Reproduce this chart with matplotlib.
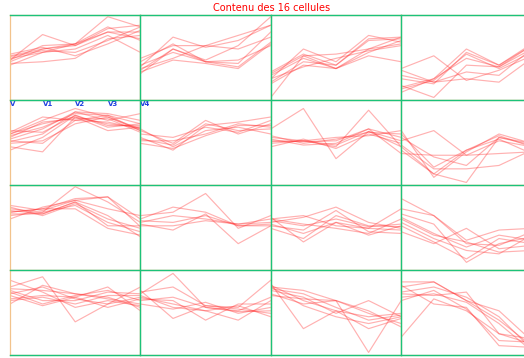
import matplotlib
matplotlib.use("Agg")
import matplotlib.pyplot as plt
from matplotlib.lines import Line2D

# profile of each SOM cell: height inside the cell (0 = bottom, 100 = top)
# for variables V..V4, one list per line drawn in the cell
cell_00 = [[47, 77, 64, 80, 72], [45, 60, 66, 98, 86], [52, 60, 64, 84, 88],
           [49, 56, 66, 80, 80], [43, 45, 49, 72, 76], [54, 62, 52, 66, 82],
           [41, 56, 60, 76, 56], [47, 64, 66, 86, 70], [51, 58, 56, 70, 86]]
cell_01 = [[39, 74, 62, 70, 88], [31, 60, 47, 64, 98], [45, 66, 45, 43, 80],
           [37, 49, 64, 60, 74], [35, 60, 45, 39, 68], [41, 56, 45, 47, 64],
           [33, 47, 43, 37, 66], [49, 64, 64, 76, 88]]
cell_02 = [[25, 60, 45, 76, 68], [3, 52, 37, 60, 74], [21, 45, 41, 70, 72],
           [31, 52, 54, 60, 66], [19, 41, 37, 56, 70], [29, 49, 37, 52, 45],
           [25, 39, 49, 58, 64], [33, 54, 41, 72, 74]]
cell_03 = [[37, 52, 23, 35, 52], [9, 25, 60, 41, 64], [13, 23, 54, 37, 56],
           [17, 3, 41, 39, 60], [29, 21, 25, 21, 49], [25, 19, 56, 41, 66],
           [15, 25, 49, 39, 64], [35, 21, 33, 29, 60]]
cell_10 = [[60, 76, 90, 80, 64], [58, 68, 84, 82, 72], [45, 39, 80, 72, 68],
           [52, 49, 76, 82, 64], [62, 80, 76, 74, 66], [54, 66, 86, 76, 84],
           [41, 56, 82, 70, 70], [56, 74, 78, 78, 62], [64, 62, 82, 68, 72],
           [49, 52, 72, 80, 66], [60, 72, 80, 64, 68], [51, 60, 86, 84, 76]]
cell_11 = [[64, 49, 76, 60, 72], [56, 41, 70, 74, 80], [66, 45, 64, 68, 60],
           [52, 52, 60, 72, 68], [60, 56, 68, 62, 76], [54, 47, 72, 64, 66],
           [49, 43, 58, 70, 70]]
cell_12 = [[66, 90, 31, 63, 52], [56, 52, 45, 88, 45], [52, 51, 52, 66, 56],
           [49, 52, 47, 63, 45], [58, 49, 54, 62, 60], [45, 54, 43, 60, 49],
           [54, 47, 49, 66, 37], [51, 52, 56, 58, 64]]
cell_13 = [[64, 9, 39, 60, 49], [52, 64, 35, 52, 45], [41, 13, 3, 56, 47],
           [37, 35, 35, 37, 39], [60, 21, 41, 58, 45], [47, 19, 19, 23, 41],
           [56, 33, 23, 56, 49], [45, 13, 41, 54, 37]]
cell_20 = [[72, 68, 98, 80, 56], [76, 70, 82, 86, 51], [66, 66, 80, 64, 39],
           [68, 72, 84, 86, 60], [64, 68, 76, 56, 45], [74, 64, 78, 60, 49],
           [60, 74, 82, 72, 64], [70, 66, 80, 52, 52], [68, 72, 72, 49, 41]]
cell_21 = [[60, 74, 68, 52, 54], [54, 47, 66, 31, 52], [64, 68, 90, 49, 64],
           [56, 64, 60, 54, 60], [58, 56, 64, 52, 52], [52, 52, 58, 54, 56]]
cell_22 = [[60, 64, 52, 49, 72], [56, 62, 74, 56, 49], [62, 33, 56, 41, 52],
           [52, 47, 70, 45, 43], [58, 52, 60, 51, 54], [54, 43, 56, 49, 47],
           [49, 37, 64, 52, 51], [60, 54, 49, 43, 60]]
cell_23 = [[84, 64, 35, 47, 49], [72, 64, 31, 29, 45], [62, 43, 27, 41, 35],
           [66, 54, 9, 31, 39], [56, 37, 23, 19, 41], [45, 31, 49, 25, 29],
           [60, 41, 33, 21, 23], [52, 33, 13, 37, 31]]
cell_30 = [[88, 74, 56, 64, 58], [80, 92, 39, 60, 68], [66, 70, 68, 80, 52],
           [76, 64, 64, 74, 72], [72, 80, 66, 60, 80], [60, 82, 72, 68, 56],
           [74, 60, 70, 76, 64], [64, 68, 60, 70, 70], [78, 76, 72, 66, 60],
           [70, 58, 68, 56, 66]]
cell_31 = [[72, 96, 56, 52, 68], [76, 43, 58, 56, 88], [66, 64, 41, 60, 60],
           [70, 56, 52, 41, 64], [64, 68, 56, 51, 52], [60, 54, 62, 49, 56],
           [74, 80, 58, 54, 49], [68, 60, 52, 58, 45]]
cell_32 = [[84, 31, 52, 45, 49], [80, 76, 64, 3, 64], [76, 68, 49, 64, 45],
           [82, 64, 52, 31, 43], [70, 66, 64, 52, 33], [78, 72, 56, 41, 47],
           [72, 60, 64, 49, 37], [80, 58, 45, 37, 45]]
cell_33 = [[86, 86, 64, 41, 11], [80, 86, 64, 52, 17], [72, 70, 74, 25, 13],
           [68, 72, 62, 37, 5], [82, 60, 56, 11, 9], [21, 66, 52, 25, 19],
           [74, 80, 68, 45, 7], [64, 76, 54, 17, 15]]

cells = [[cell_00, cell_01, cell_02, cell_03],
         [cell_10, cell_11, cell_12, cell_13],
         [cell_20, cell_21, cell_22, cell_23],
         [cell_30, cell_31, cell_32, cell_33]]
var_labels = ['V', 'V1', 'V2', 'V3', 'V4']
positions = [0, 1, 2, 3, 4]

W, H = 524, 358
fig = plt.figure(figsize=(W / 100, H / 100), dpi=100)
fig.patch.set_facecolor('white')

x0, y0, cw, ch = 10, 15, 130.4, 85
green = '#1cc27a'
tan = '#f2c38c'

for r, row in enumerate(cells):
    for c, profiles in enumerate(row):
        left = (x0 + cw * c) / W
        bottom = 1 - (y0 + ch * (r + 1)) / H
        ax = fig.add_axes([left, bottom, cw / W, ch / H])
        ax.set_xlim(0, 4)
        ax.set_ylim(0, 100)
        ax.set_xticks([])
        ax.set_yticks([])
        for s in ax.spines.values():
            s.set_color(tan)
            s.set_linewidth(0.9)
        for p in profiles:
            ax.plot(positions, p, color='#ff3333', alpha=0.38, linewidth=0.85)
        if r == 1 and c == 0:
            ax.set_zorder(3)
            for k, lab in zip(positions, var_labels):
                ax.text(k, 99, lab, color='#1f3fe0', fontsize=5,
                        fontweight='bold', ha='left', va='top',
                        clip_on=False, zorder=5)

# green separators between the cells
for i in range(5):
    yy = 1 - (y0 + ch * i) / H
    fig.add_artist(Line2D([x0 / W, 1], [yy, yy], color=green, linewidth=1.0,
                          zorder=10))
for j in range(1, 4):
    xx = (x0 + cw * j) / W
    fig.add_artist(Line2D([xx, xx], [1 - (y0 + 4 * ch) / H, 1 - y0 / H],
                          color=green, linewidth=1.0, zorder=10))

fig.text(0.518, 1 - 8 / H, 'Contenu des 16 cellules', color='red', fontsize=7,
         ha='center', va='center')

fig.savefig('out.png', dpi=100)
